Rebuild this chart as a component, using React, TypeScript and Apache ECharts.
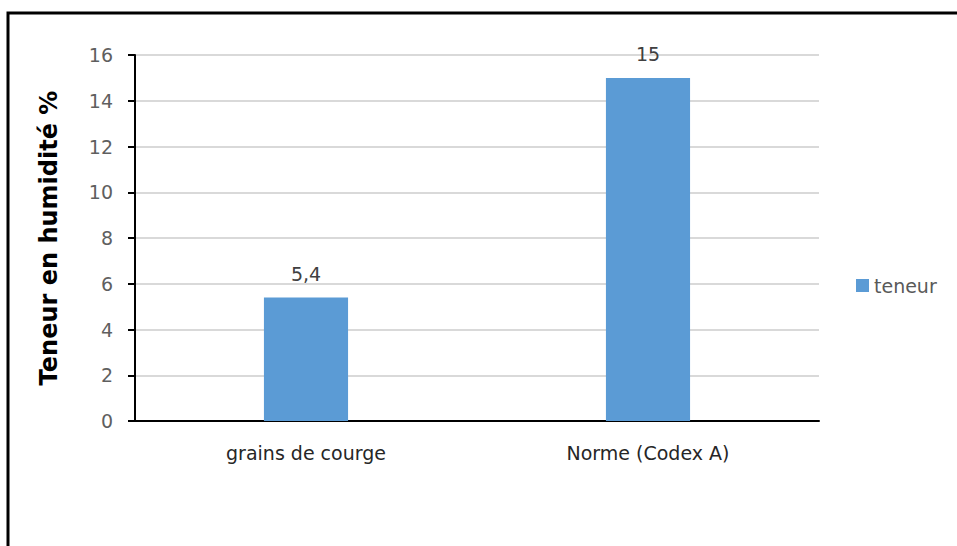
import React, { useEffect, useRef } from "react";
import * as echarts from "echarts";

const categories = ["grains de courge", "Norme (Codex A)"];
const teneurValues = [5.4, 15];
const seriesName = "teneur";
const yAxisTitle = "Teneur en humidité %";

export default function App() {
  const ref = useRef<HTMLDivElement>(null);
  useEffect(() => {
    if (!ref.current) return;
    const chart = echarts.init(ref.current, undefined, { renderer: "svg" });
    const font = "'DejaVu Sans', sans-serif";
    chart.setOption({
      animation: false,
      backgroundColor: "#ffffff",
      textStyle: { fontFamily: font },
      graphic: [
        {
          type: "rect",
          shape: { x: 8, y: 13, width: 980, height: 600 },
          style: { fill: "none", stroke: "#000000", lineWidth: 3 },
          silent: true,
        },
      ],
      grid: { left: 135, right: 138, top: 55, bottom: 125 },
      legend: {
        orient: "vertical",
        left: 851,
        top: 271,
        itemWidth: 13,
        itemHeight: 13,
        itemGap: 6,
        icon: "rect",
        textStyle: { color: "#595959", fontSize: 19, fontFamily: font },
        data: [seriesName],
      },
      xAxis: {
        type: "category",
        data: categories,
        axisLine: { show: true, lineStyle: { color: "#000000", width: 2 } },
        axisTick: { show: false },
        axisLabel: { color: "#262626", fontSize: 19, margin: 22, fontFamily: font },
        splitLine: { show: false },
      },
      yAxis: {
        type: "value",
        min: 0,
        max: 16,
        interval: 2,
        name: yAxisTitle,
        nameLocation: "middle",
        nameGap: 74,
        nameTextStyle: { color: "#000000", fontSize: 24, fontWeight: "bold", fontFamily: font },
        axisLine: { show: true, lineStyle: { color: "#000000", width: 2 } },
        axisTick: { show: true, length: 7, lineStyle: { color: "#000000", width: 2 } },
        axisLabel: { color: "#5f5f5f", fontSize: 19, margin: 22, fontFamily: font },
        splitLine: { show: true, lineStyle: { color: "#D9D9D9", width: 2 } },
      },
      series: [
        {
          name: seriesName,
          type: "bar",
          data: teneurValues,
          barWidth: "24.6%",
          itemStyle: { color: "#5B9BD5" },
          label: {
            show: true,
            position: "top",
            distance: 14,
            color: "#404040",
            fontSize: 19,
            fontFamily: font,
            formatter: (p: any) => String(p.value).replace(".", ","),
          },
        },
      ],
    });
    return () => chart.dispose();
  }, []);
  return (
    <div
      ref={ref}
      style={{ position: "fixed", left: 0, top: 0, width: 957, height: 546 }}
    />
  );
}
